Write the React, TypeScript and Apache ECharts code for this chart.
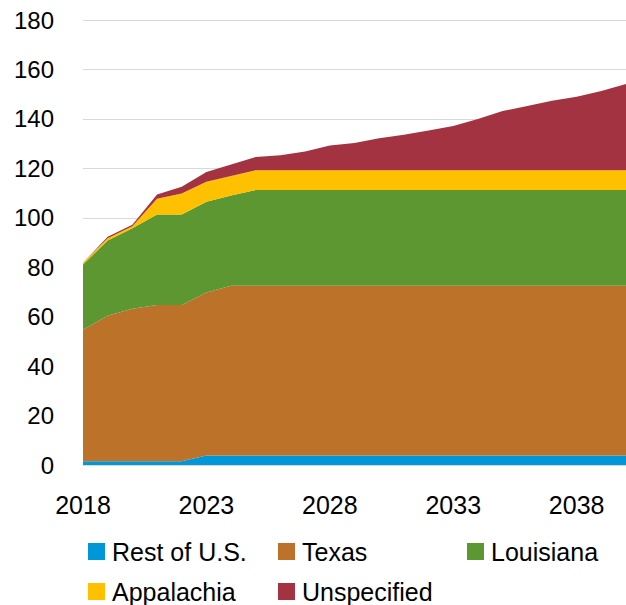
import React, { useEffect, useRef } from "react";
import * as echarts from "echarts";

const years = [
  "2018", "2019", "2020", "2021", "2022", "2023", "2024", "2025", "2026", "2027", "2028",
  "2029", "2030", "2031", "2032", "2033", "2034", "2035", "2036", "2037", "2038", "2039", "2040",
];

const restOfUS = [1.5, 1.5, 1.5, 1.5, 1.5, 3.8, 3.8, 3.8, 3.8, 3.8, 3.8, 3.8, 3.8, 3.8, 3.8, 3.8, 3.8, 3.8, 3.8, 3.8, 3.8, 3.8, 3.8];
const texas = [53.2, 58.9, 61.7, 63.2, 63.2, 66.0, 68.7, 68.7, 68.7, 68.7, 68.7, 68.7, 68.7, 68.7, 68.7, 68.7, 68.7, 68.7, 68.7, 68.7, 68.7, 68.7, 68.7];
const louisiana = [26.4, 30.4, 32.6, 36.6, 36.6, 36.7, 36.5, 38.7, 38.7, 38.7, 38.7, 38.7, 38.7, 38.7, 38.7, 38.7, 38.7, 38.7, 38.7, 38.7, 38.7, 38.7, 38.7];
const appalachia = [0.7, 0.9, 0.8, 6.4, 8.5, 8.1, 7.9, 8.0, 8.0, 8.0, 8.0, 8.0, 8.0, 8.0, 8.0, 8.0, 8.0, 8.0, 8.0, 8.0, 8.0, 8.0, 8.0];
const unspecified = [0, 0.6, 0.6, 1.7, 2.8, 3.9, 4.7, 5.4, 6.1, 7.6, 10.0, 11.0, 13.0, 14.4, 16.1, 17.9, 20.8, 24.0, 26.0, 28.1, 29.8, 32.1, 34.9];

const seriesNames = ["Rest of U.S.", "Texas", "Louisiana", "Appalachia", "Unspecified"];
const seriesData = [restOfUS, texas, louisiana, appalachia, unspecified];
const colors = ["#0097D8", "#BD7229", "#5D9732", "#FFC000", "#A33340"];

const legendPos = [
  { left: 88, top: 539 },
  { left: 278, top: 539 },
  { left: 467, top: 539 },
  { left: 88, top: 579 },
  { left: 278, top: 579 },
];

const FONT = "Liberation Sans";

export default function App() {
  const ref = useRef<HTMLDivElement>(null);
  useEffect(() => {
    if (!ref.current) return;
    const chart = echarts.init(ref.current, undefined, { renderer: "svg" });
    chart.setOption({
      animation: false,
      color: colors,
      grid: { left: 83, right: -6, top: 20, bottom: 140, containLabel: false },
      xAxis: {
        type: "category",
        data: years,
        boundaryGap: false,
        axisTick: { show: false },
        axisLine: { lineStyle: { color: "#d9d9d9", width: 1 } },
        axisLabel: {
          interval: 4,
          margin: 27,
          color: "#000",
          fontSize: 25,
          lineHeight: 25,
          fontFamily: FONT,
        },
        splitLine: { show: false },
      },
      yAxis: {
        type: "value",
        min: 0,
        max: 180,
        interval: 20,
        axisLine: { show: false },
        axisTick: { show: false },
        axisLabel: { margin: 29, color: "#000", fontSize: 24, fontFamily: FONT },
        splitLine: { lineStyle: { color: "#d9d9d9", width: 1 } },
      },
      legend: seriesNames.map((name, i) => ({
        data: [name],
        left: legendPos[i].left,
        top: legendPos[i].top,
        padding: 0,
        icon: "rect",
        itemWidth: 17,
        itemHeight: 17,
        selectedMode: false,
        textStyle: {
          color: "#000",
          fontSize: 25,
          lineHeight: 25,
          fontFamily: FONT,
          padding: [0, 0, 0, 2],
        },
      })),
      series: seriesNames.map((name, i) => ({
        name,
        type: "line",
        stack: "total",
        data: seriesData[i],
        showSymbol: false,
        symbol: "none",
        lineStyle: { width: 0 },
        areaStyle: { color: colors[i], opacity: 1 },
        itemStyle: { color: colors[i] },
        emphasis: { disabled: true },
      })),
    });
    return () => chart.dispose();
  }, []);
  return (
    <div
      ref={ref}
      style={{ position: "fixed", left: 0, top: 0, width: 626, height: 605, background: "#fff" }}
    />
  );
}
